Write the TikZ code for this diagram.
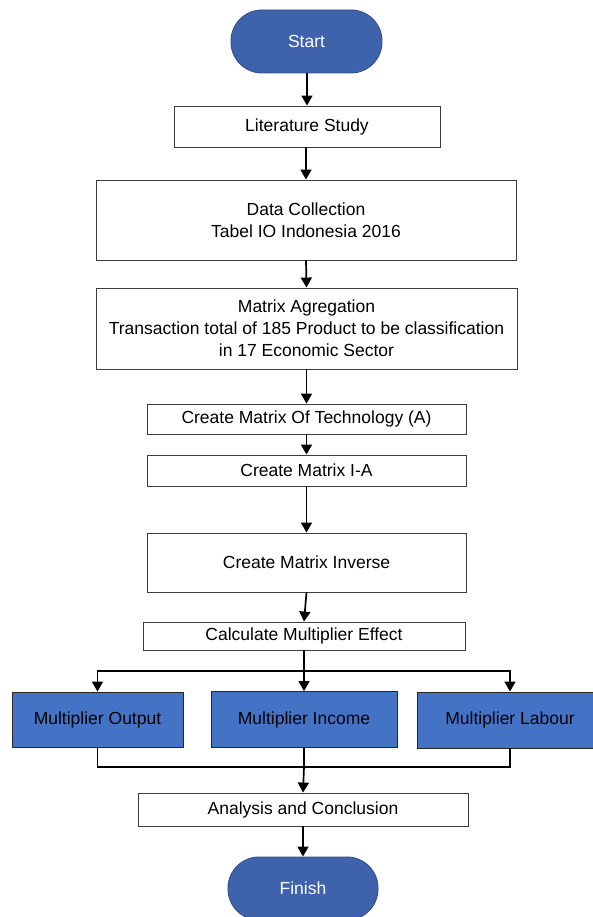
\documentclass[tikz,border=0pt]{standalone}
\usepackage{fontspec}
\setmainfont{Liberation Sans}
\usetikzlibrary{arrows.meta}
\definecolor{termfill}{RGB}{63,98,172}
\definecolor{termdraw}{RGB}{50,80,140}
\definecolor{mfill}{RGB}{68,114,196}
\definecolor{boxdraw}{RGB}{60,60,60}
\begin{document}
\begin{tikzpicture}[x=1pt,y=-1pt,
  every node/.style={font=\fontsize{17.5}{22}\selectfont, inner sep=0pt, align=center},
  box/.style={draw=boxdraw, line width=0.9pt, fill=white},
  term/.style={draw=termdraw, line width=0.9pt, fill=termfill, text=white, rounded corners=31pt},
  mbox/.style={draw=black!85, line width=0.9pt, fill=mfill, text=black},
  arr/.style={line width=1.7pt, -{Triangle[length=10pt,width=11pt]}},
  ln/.style={line width=1.7pt}
]
\useasboundingbox (0,0) rectangle (593,917);
\node[term, minimum width=151pt, minimum height=63pt] (start) at (306.5,41.5) {Start};
\node[box, minimum width=266pt, minimum height=41pt] (lit) at (307,126.5) {Literature Study};
\node[box, minimum width=420pt, minimum height=80pt] (dc) at (306,220) {Data Collection\\Tabel IO Indonesia 2016};
\node[box, minimum width=421pt, minimum height=81pt] (ma) at (306.5,328.5) {Matrix Agregation\\Transaction total of 185 Product to be classification\\in 17 Economic Sector};
\node[box, minimum width=319pt, minimum height=30pt] (tech) at (306.5,419) {Create Matrix Of Technology (A)};
\node[box, minimum width=319pt, minimum height=31pt] (ia) at (306.5,470.5) {Create Matrix I-A};
\node[box, minimum width=319pt, minimum height=59pt] (inv) at (306.5,562.5) {Create Matrix Inverse};
\node[box, minimum width=322pt, minimum height=28pt] (calc) at (304,636) {Calculate Multiplier Effect};
\node[mbox, minimum width=171pt, minimum height=55pt] (mo) at (97.5,719.5) {Multiplier Output};
\node[mbox, minimum width=186pt, minimum height=56pt] (mi) at (304,719.5) {Multiplier Income};
\node[mbox, minimum width=186pt, minimum height=56pt] (ml) at (510,720) {Multiplier Labour};
\node[box, minimum width=330pt, minimum height=33pt] (ac) at (303,809.5) {Analysis and Conclusion};
\node[term, minimum width=150pt, minimum height=63pt] (fin) at (303,888.5) {Finish};

\coordinate (bm) at (304,671);
\coordinate (j) at (304,767);

\draw[arr] (start.south -| lit.north) -- (lit.north);
\draw[arr] (lit.south -| dc.north) -- (dc.north);
\draw[arr] (dc.south) -- (ma.north);
\draw[arr] (ma.south) -- (tech.north);
\draw[arr] (tech.south) -- (ia.north);
\draw[arr] (ia.south) -- (inv.north);
\draw[arr] (inv.south) -- (calc.north);
\draw[ln] (calc.south) -- (bm);
\draw[arr] (bm) -- (mi.north);
\draw[arr] (bm) -| (mo.north);
\draw[arr] (bm) -| (ml.north);
\draw[ln] (mo.south) |- (j);
\draw[ln] (ml.south) |- (j);
\draw[ln] (mi.south) -- (j);
\draw[arr] (j) -- (ac.north);
\draw[arr] (ac.south) -- (fin.north);
\end{tikzpicture}
\end{document}
